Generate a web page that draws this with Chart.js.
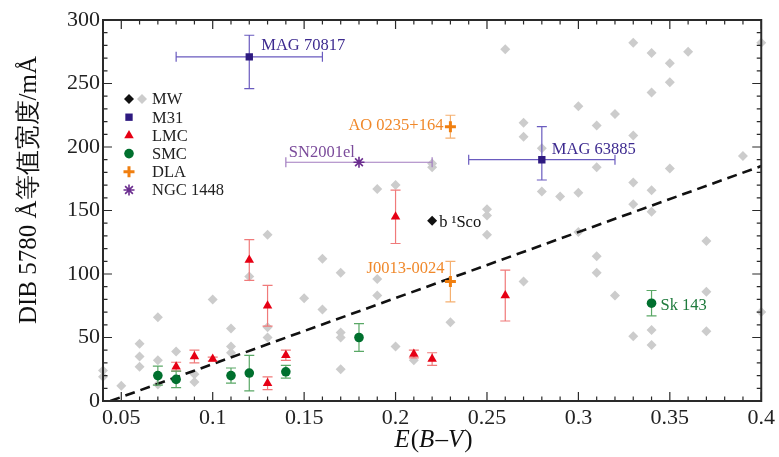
<!DOCTYPE html>
<html>
<head>
<meta charset="utf-8">
<script src="https://cdn.jsdelivr.net/npm/chart.js@4/dist/chart.umd.min.js"></script>
<style>
  body { margin: 0; background: #fff; }
  canvas { display: block; }
</style>
</head>
<body>
<canvas id="dibChart" width="779" height="457"></canvas>
<script>
// Milky Way sightlines (grey)
const mwX = [0.04, 0.04, 0.05, 0.06, 0.06, 0.06, 0.07, 0.07, 0.07, 0.08, 0.09, 0.09, 0.1, 0.11, 0.11, 0.11,
  0.12, 0.13, 0.13, 0.13, 0.15, 0.16, 0.16, 0.17, 0.17, 0.17, 0.17, 0.19, 0.19, 0.19, 0.2, 0.2, 0.21,
  0.22, 0.22, 0.23, 0.25, 0.25, 0.25, 0.26, 0.27, 0.27, 0.27, 0.28, 0.28, 0.29, 0.3, 0.3, 0.3,
  0.31, 0.31, 0.31, 0.31, 0.32, 0.32, 0.33, 0.33, 0.33, 0.33, 0.33, 0.34, 0.34, 0.34, 0.34, 0.34, 0.34,
  0.35, 0.35, 0.35, 0.36, 0.37, 0.37, 0.37, 0.39, 0.4, 0.4];
const mwY = [24, 19, 12, 45, 35, 27, 66, 32, 13, 39, 21, 15, 80, 57, 43, 38,
  98, 131, 58, 50, 81, 112, 72, 101, 54, 50, 25, 167, 96, 83, 170, 43, 32,
  187, 184, 62, 151, 146, 131, 277, 219, 208, 94, 199, 165, 161, 232, 164, 133,
  217, 184, 114, 101, 226, 83, 282, 209, 172, 155, 51, 274, 243, 166, 149, 56, 44,
  266, 251, 183, 275, 126, 86, 55, 193, 282, 70];

// b 1Sco
const scoX = [0.22];
const scoY = [142];

// M31
const m31X = [0.12, 0.28];
const m31Y = [271, 190];
const m31ErrY = [[25, 17], [16, 26]];
const m31ErrX = [0.04, 0.04];

// LMC
const lmcX = [0.08, 0.09, 0.1, 0.12, 0.13, 0.13, 0.14, 0.2, 0.21, 0.22, 0.26];
const lmcY = [27, 35, 33, 111, 75, 14, 36, 145, 37, 33, 83];
const lmcErr = [3.5, 5, 1.5, 16, 16, 5, 4, 21, 3, 5, 20];

// SMC
const smcX = [0.07, 0.08, 0.11, 0.12, 0.14, 0.18, 0.34];
const smcY = [20, 17, 20, 22, 23, 50, 77];
const smcErr = [7.5, 6.5, 6, 14, 5, 11, 10];

// DLA
const dlaX = [0.23, 0.23];
const dlaY = [216, 94];
const dlaErr = [9, 16];

// NGC 1448
const ngcX = [0.18];
const ngcY = [188];
const ngcErrX = [0.04];

// dashed relation
const lineX = [0.044, 0.4];
const lineY = [0, 185];

const xTicks = [0.05, 0.1, 0.15, 0.2, 0.25, 0.3, 0.35, 0.4];
const yTicks = [0, 50, 100, 150, 200, 250, 300];

const SERIF = "'Liberation Serif', 'DejaVu Serif', serif";

const pts = (xs, ys) => xs.map((x, i) => ({ x: x, y: ys[i] }));
const sym = arr => arr.map(e => [e, e]);

// error bars drawn right before their own dataset
const errorBars = {
  id: 'errorBars',
  beforeDatasetDraw(chart, args) {
    const ds = chart.data.datasets[args.index];
    if (!ds.errY && !ds.errX) return;
    const xs = chart.scales.x, ys = chart.scales.y, ctx = chart.ctx;
    const cap = 5;
    ctx.save();
    ctx.strokeStyle = ds.errColor;
    ctx.lineWidth = 1.2;
    ds.data.forEach((p, i) => {
      const px = xs.getPixelForValue(p.x);
      const py = ys.getPixelForValue(p.y);
      ctx.beginPath();
      if (ds.errY) {
        const [lo, hi] = ds.errY[i];
        const y1 = ys.getPixelForValue(p.y - lo), y2 = ys.getPixelForValue(p.y + hi);
        ctx.moveTo(px, y1); ctx.lineTo(px, y2);
        ctx.moveTo(px - cap, y1); ctx.lineTo(px + cap, y1);
        ctx.moveTo(px - cap, y2); ctx.lineTo(px + cap, y2);
      }
      if (ds.errX) {
        const x1 = xs.getPixelForValue(p.x - ds.errX[i]), x2 = xs.getPixelForValue(p.x + ds.errX[i]);
        ctx.moveTo(x1, py); ctx.lineTo(x2, py);
        ctx.moveTo(x1, py - cap); ctx.lineTo(x1, py + cap);
        ctx.moveTo(x2, py - cap); ctx.lineTo(x2, py + cap);
      }
      ctx.stroke();
    });
    ctx.restore();
  }
};

function marker(ctx, style, x, y, fill, stroke, r, bw) {
  ctx.save();
  ctx.fillStyle = fill;
  ctx.strokeStyle = stroke;
  ctx.lineWidth = bw;
  Chart.helpers.drawPoint(ctx, { pointStyle: style, radius: r, rotation: 0, borderWidth: bw }, x, y);
  ctx.restore();
}

// frame, inward ticks, labels, legend, axis titles
const decorations = {
  id: 'decorations',
  afterDraw(chart) {
    const ctx = chart.ctx, a = chart.chartArea;
    const xs = chart.scales.x, ys = chart.scales.y;
    ctx.save();
    ctx.strokeStyle = '#2a2a2a';
    ctx.lineWidth = 2;
    ctx.strokeRect(a.left, a.top, a.right - a.left, a.bottom - a.top);

    ctx.lineWidth = 1.2;
    ctx.beginPath();
    for (let i = 4; i <= 40; i++) {
      const px = xs.getPixelForValue(i / 100);
      const len = i % 5 === 0 ? 9 : 4.5;
      ctx.moveTo(px, a.bottom); ctx.lineTo(px, a.bottom - len);
      ctx.moveTo(px, a.top); ctx.lineTo(px, a.top + len);
    }
    for (let v = 0; v <= 300; v += 10) {
      const py = ys.getPixelForValue(v);
      const len = v % 50 === 0 ? 9 : 4.5;
      ctx.moveTo(a.left, py); ctx.lineTo(a.left + len, py);
      ctx.moveTo(a.right, py); ctx.lineTo(a.right - len, py);
    }
    ctx.stroke();

    // point labels
    const notes = [
      { t: 'MAG 70817', x: 0.12, y: 271, dx: 12, dy: -11, align: 'left', c: '#3d2a8f' },
      { t: 'MAG 63885', x: 0.28, y: 190, dx: 10, dy: -10, align: 'left', c: '#3d2a8f' },
      { t: 'AO 0235+164', x: 0.23, y: 216, dx: -7, dy: -1, align: 'right', c: '#f0882a' },
      { t: 'SN2001el', x: 0.14, y: 188, dx: 3, dy: -10, align: 'left', c: '#7a4a9a' },
      { t: 'b \u00B9Sco', x: 0.22, y: 142, dx: 7, dy: 2, align: 'left', c: '#111' },
      { t: 'J0013-0024', x: 0.23, y: 94, dx: -6, dy: -13, align: 'right', c: '#f0882a' },
      { t: 'Sk 143', x: 0.34, y: 77, dx: 9, dy: 2, align: 'left', c: '#1e7a3c' }
    ];
    ctx.font = '16.5px ' + SERIF;
    ctx.textBaseline = 'middle';
    notes.forEach(n => {
      ctx.fillStyle = n.c;
      ctx.textAlign = n.align;
      ctx.fillText(n.t, xs.getPixelForValue(n.x) + n.dx, ys.getPixelForValue(n.y) + n.dy);
    });

    // legend
    const lx = 129, ly = 99, step = 18.2;
    marker(ctx, 'rectRot', lx, ly, '#111', '#111', 5, 0);
    marker(ctx, 'rectRot', lx + 13, ly, '#cccccc', '#cccccc', 5, 0);
    marker(ctx, 'rect', lx, ly + step, '#2e1a80', '#2e1a80', 5.2, 0);
    marker(ctx, 'triangle', lx, ly + 2 * step, '#e60014', '#e60014', 5.5, 0);
    marker(ctx, 'circle', lx, ly + 3 * step, '#00702e', '#00702e', 4.8, 0);
    marker(ctx, 'cross', lx, ly + 4 * step, '#f07f10', '#f07f10', 5.5, 3);
    marker(ctx, 'star', lx, ly + 5 * step, '#6b2d8f', '#6b2d8f', 5.5, 1.6);
    ctx.fillStyle = '#222';
    ctx.textAlign = 'left';
    ['MW', 'M31', 'LMC', 'SMC', 'DLA', 'NGC 1448'].forEach((t, i) => {
      ctx.fillText(t, 152, ly + i * step + 1);
    });

    // x title, italic symbols with upright brackets
    ctx.fillStyle = '#111';
    ctx.textBaseline = 'alphabetic';
    const parts = [['E', true], ['(', false], ['B', true], ['\u2013', false], ['V', true], [')', false]];
    const fontOf = it => (it ? 'italic ' : '') + '25px ' + SERIF;
    let total = 0;
    parts.forEach(p => { ctx.font = fontOf(p[1]); total += ctx.measureText(p[0]).width; });
    let cx = 432 - total / 2;
    parts.forEach(p => {
      ctx.font = fontOf(p[1]);
      ctx.fillText(p[0], cx, 447);
      cx += ctx.measureText(p[0]).width + (p[1] ? 1 : 0);
    });

    // y title
    ctx.textAlign = 'center';
    ctx.translate(36, 190);
    ctx.rotate(-Math.PI / 2);
    ctx.font = '25px ' + SERIF;
    ctx.fillText('DIB 5780 \u00C5等值宽度/m\u00C5', 0, 0);
    ctx.restore();
  }
};

new Chart(document.getElementById('dibChart'), {
  type: 'scatter',
  data: {
    datasets: [
      {
        label: 'NGC 1448', data: pts(ngcX, ngcY), errX: ngcErrX, errColor: '#a27cc0',
        pointStyle: 'star', pointRadius: 5.5, borderColor: '#6b2d8f', backgroundColor: '#6b2d8f',
        pointBorderWidth: 1.6, order: 1
      },
      {
        label: 'DLA', data: pts(dlaX, dlaY), errY: sym(dlaErr), errColor: '#f5b070',
        pointStyle: 'cross', pointRadius: 5.5, borderColor: '#f07f10', backgroundColor: '#f07f10',
        pointBorderWidth: 3, order: 1
      },
      {
        label: 'SMC', data: pts(smcX, smcY), errY: sym(smcErr), errColor: '#5aa866',
        pointStyle: 'circle', pointRadius: 4.8, borderColor: '#00702e', backgroundColor: '#00702e',
        pointBorderWidth: 0, order: 1
      },
      {
        label: 'LMC', data: pts(lmcX, lmcY), errY: sym(lmcErr), errColor: '#f07a7a',
        pointStyle: 'triangle', pointRadius: 5.5, borderColor: '#e60014', backgroundColor: '#e60014',
        pointBorderWidth: 0, order: 1
      },
      {
        label: 'M31', data: pts(m31X, m31Y), errY: m31ErrY, errX: m31ErrX, errColor: '#6a5bbf',
        pointStyle: 'rect', pointRadius: 5.2, borderColor: '#2e1a80', backgroundColor: '#2e1a80',
        pointBorderWidth: 0, order: 1
      },
      {
        label: 'b 1Sco', data: pts(scoX, scoY),
        pointStyle: 'rectRot', pointRadius: 5, borderColor: '#111', backgroundColor: '#111',
        pointBorderWidth: 0, order: 1
      },
      {
        type: 'line', label: 'fit', data: pts(lineX, lineY),
        borderColor: '#111', borderWidth: 2.6, borderDash: [10, 6], pointRadius: 0,
        fill: false, order: 2
      },
      {
        label: 'MW', data: pts(mwX, mwY),
        pointStyle: 'rectRot', pointRadius: 5, borderColor: '#cccccc', backgroundColor: '#cccccc',
        pointBorderWidth: 0, clip: false, order: 3
      }
    ]
  },
  options: {
    responsive: false,
    animation: false,
    layout: { padding: { top: 20, right: 17, left: 0, bottom: 0 } },
    plugins: {
      legend: { display: false },
      tooltip: { enabled: false }
    },
    scales: {
      x: {
        type: 'linear',
        min: 0.04,
        max: 0.4,
        afterBuildTicks: axis => { axis.ticks = xTicks.map(v => ({ value: v })); },
        afterFit: scale => { scale.height = 56; },
        grid: { display: false, drawTicks: false },
        border: { display: false },
        ticks: {
          color: '#222',
          padding: 4,
          maxRotation: 0,
          font: { family: SERIF, size: 22 },
          callback: v => String(v)
        }
      },
      y: {
        type: 'linear',
        min: 0,
        max: 300,
        afterBuildTicks: axis => { axis.ticks = yTicks.map(v => ({ value: v })); },
        afterFit: scale => { scale.width = 103; },
        grid: { display: false, drawTicks: false },
        border: { display: false },
        ticks: {
          color: '#222',
          padding: 3,
          font: { family: SERIF, size: 22 },
          callback: v => String(v)
        }
      }
    }
  },
  plugins: [errorBars, decorations]
});
</script>
</body>
</html>
